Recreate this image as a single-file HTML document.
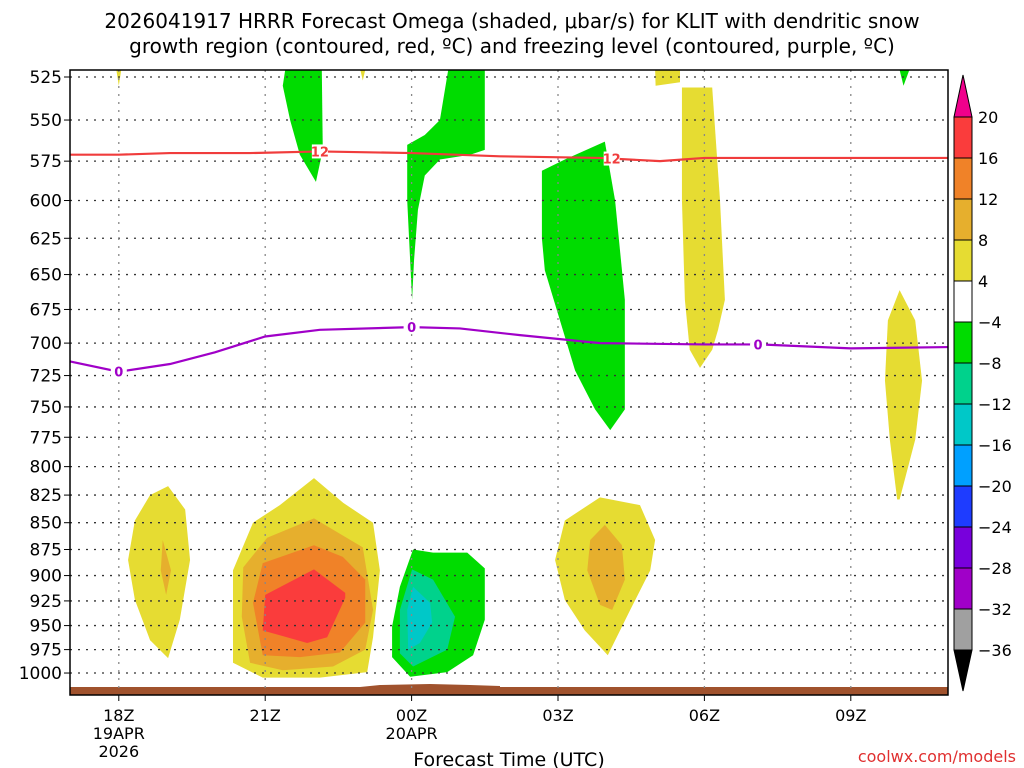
<!DOCTYPE html>
<html><head><meta charset="utf-8"><style>
body{margin:0;background:#fff;}
svg{display:block;font-family:"DejaVu Sans","Liberation Sans",sans-serif;}
</style></head><body>
<svg id="chart" width="1024" height="768" viewBox="0 0 1024 768" xmlns="http://www.w3.org/2000/svg">
<text x="512" y="28" font-size="20" text-anchor="middle">2026041917 HRRR Forecast Omega (shaded, μbar/s) for KLIT with dendritic snow</text>
<text x="512" y="53" font-size="20" text-anchor="middle">growth region (contoured, red, ºC) and freezing level (contoured, purple, ºC)</text>
<g id="fills"></g>
<g id="grid"></g>
<g id="lines"></g>
<g id="axes"></g>
<g id="cbar"></g>
<text x="509" y="766" font-size="19" text-anchor="middle">Forecast Time (UTC)</text>
<text x="1016" y="762" font-size="16" fill="#e03030" text-anchor="end">coolwx.com/models</text>
</svg>
<script>
const pressureTicks=[525,550,575,600,625,650,675,700,725,750,775,800,825,850,875,900,925,950,975,1000];
const timeTickHours=[1,4,7,10,13,16];
const timeTickLabels=[["18Z","19APR","2026"],["21Z"],["00Z","20APR"],["03Z"],["06Z"],["09Z"]];
const cbarLevels=[20,16,12,8,4,-4,-8,-12,-16,-20,-24,-28,-32,-36];
const cbarColors=["#fa3c3c","#f08228","#e6af2d","#e6dc32","#ffffff","#00dc00","#00d28c","#00c8c8","#00a0ff","#1e3cff","#7800dc","#a000c8","#a0a0a0"];
// filled omega regions: [hour since 17Z, pressure hPa]
const warmOuter=[[5.0,810],[4.3,834],[3.75,850],[3.34,895],[3.34,989],[3.95,1005],[5.12,1005],[6.09,999],[6.21,962],[6.35,895],[6.21,850],[5.6,832]];
const warmGold=[[5.0,846],[4.04,864],[3.55,892],[3.52,941],[3.69,989],[4.36,997],[5.39,993],[6.05,975],[6.21,934],[6.0,873]];
const warmOrange=[[5.0,871],[3.95,888],[3.75,927],[3.95,981],[4.71,983],[5.53,978],[6.05,947],[6.05,904],[5.59,882]];
const warmRed=[[5.0,894],[4.0,919],[3.95,955],[4.86,968],[5.27,962],[5.64,922],[5.64,917]];
const coldGreen=[[7.03,875],[7.44,878],[8.14,878],[8.5,893],[8.5,944],[8.26,981],[7.73,999],[6.97,1004],[6.6,983],[6.6,951],[6.76,911]];
const coldTeal=[[7.01,894],[7.44,904],[7.89,941],[7.73,975],[7.03,993],[6.76,979],[6.76,934]];
const coldCyan=[[7.03,911],[7.38,927],[7.42,947],[7.17,968],[6.93,975],[6.91,934]];
const leftYellow=[[2.01,817],[2.36,838],[2.46,885],[2.25,944],[2.01,984],[1.64,965],[1.33,924],[1.19,885],[1.33,848],[1.64,825]];
const leftGold=[[1.9,866],[2.07,895],[1.97,919],[1.86,895]];
const rightYellow=[[10.86,827],[11.68,834],[11.99,866],[11.89,895],[11.48,934],[11.02,981],[10.55,955],[10.14,924],[9.94,885],[10.14,848]];
const rightGold=[[10.96,852],[11.31,871],[11.37,904],[11.11,934],[10.86,929],[10.6,895],[10.66,866]];
const upperYellow=[[4.0,677],[5.08,675],[5.53,647],[5.86,606],[5.98,568],[6.1,603],[6.31,668],[6.31,721],[6.05,751],[5.33,744],[4.51,732],[4.0,721]];
const greenA=[[4.41,521],[5.16,521],[5.18,568],[5.04,588],[4.71,571],[4.51,550],[4.36,530]];
const greenB=[[7.75,521],[8.5,521],[8.5,568],[8.2,571],[7.58,574],[7.27,584],[7.13,606],[7.05,640],[7.01,668],[6.97,640],[6.91,600],[6.91,565],[7.27,559],[7.58,550]];
const greenC=[[9.67,581],[10.14,574],[10.96,563],[11.17,600],[11.37,668],[11.37,752],[11.07,769],[10.76,752],[10.35,721],[10.04,683],[9.73,647],[9.67,625]];
const yellow06=[[12.54,531],[13.16,531],[13.32,600],[13.42,668],[13.28,690],[13.16,705],[12.91,719],[12.7,705],[12.6,668],[12.54,600]];
const yellowTop=[[11.99,521],[12.5,521],[12.5,528],[12.0,530]];
const yellow10=[[17.0,661],[17.32,683],[17.46,729],[17.32,777],[17.0,829],[16.95,829],[16.8,777],[16.7,729],[16.76,683]];
const greenTop=[[17.0,521],[17.2,521],[17.08,530]];
const yellowTick1=[[0.95,521],[1.05,521],[1.0,530]];
const yellowTick2=[[5.95,521],[6.05,521],[6.0,527]];
const fillRegions=[[upperYellow,4],[yellow06,3],[yellowTop,3],[yellow10,3],[yellowTick1,3],[yellowTick2,3],[greenA,5],[greenB,5],[greenC,5],[greenTop,5],[warmOuter,3],[warmGold,2],[warmOrange,1],[warmRed,0],[coldGreen,5],[coldTeal,6],[coldCyan,7],[leftYellow,3],[leftGold,2],[rightYellow,3],[rightGold,2]];
const fillNames=["upper-yellow","yellow-06z","yellow-top","yellow-10z","yellow-tick-18z","yellow-tick-23z","green-22z","green-00z","green-03z","green-top-10z","warm-outer","warm-gold","warm-orange","warm-red","cold-green","cold-teal","cold-cyan","left-yellow","left-gold","right-yellow","right-gold"];
// contour lines
const dgzHours=[0,1,2.05,3.69,5.12,7.0,8.81,10.86,12.09,13.0,16.0,18];
const dgzPress=[571,571,570,570,569,570,572,573,575,573,573,573];
const frzHours=[0,1,2.05,2.97,4.0,5.12,7.0,7.99,9.22,10.86,13.0,14.13,16.0,18];
const frzPress=[714,722,716,707,695,690,688,689,694,700,701,701,704,703];

const L=70,R=948,T=70,B=695;
const X=h=>L+48.8*h;
const Y=p=>77+925*Math.log(p/525);
const NS="http://www.w3.org/2000/svg";
function mk(tag,parent,attrs){const e=document.createElementNS(NS,tag);for(const k in attrs)e.setAttribute(k,attrs[k]);document.getElementById(parent).appendChild(e);return e;}

document.getElementById('fills').setAttribute('clip-path','url(#clipp)');
const defs=document.createElementNS(NS,'defs');defs.innerHTML='<clipPath id="clipp"><rect x="70" y="70" width="878" height="625"/></clipPath>';document.getElementById('chart').prepend(defs);

fillRegions.forEach((r,i)=>{
 const el=mk('polygon','fills',{points:r[0].map(q=>X(q[0])+','+Y(q[1])).join(' '),fill:cbarColors[r[1]]});
 
 
});
// terrain
let t=mk('rect','fills',{x:70,y:687,width:878,height:8,fill:'#a0522d'});


let t2=mk('polygon','fills',{points:'360,687 380,685 430,684 470,685 500,686 500,688 360,688',fill:'#a0522d'});



pressureTicks.forEach(p=>{
 const g=mk('line','grid',{x1:L,x2:R,y1:Y(p),y2:Y(p),stroke:'#333','stroke-dasharray':'2,6','stroke-width':1.3});
 
 
 const tk=mk('line','axes',{x1:L-6,x2:L,y1:Y(p),y2:Y(p),stroke:'#000'});
 
 
 const lb=mk('text','axes',{x:L-8,y:Y(p)+6,'font-size':17,'text-anchor':'end'});
 lb.textContent=p;
 
 
});
timeTickHours.forEach((h,i)=>{
 const g=mk('line','grid',{x1:X(h),x2:X(h),y1:T,y2:B,stroke:'#888','stroke-dasharray':'2,6','stroke-width':1.3});
 
 
 const tk=mk('line','axes',{x1:X(h),x2:X(h),y1:B,y2:B+6,stroke:'#000'});
 
 
 timeTickLabels[i].forEach((s,j)=>{
  const lb=mk('text','axes',{x:X(h),y:721+j*18,'font-size':16,'text-anchor':'middle'});
  lb.textContent=s;
  
  
 });
});
const fr=mk('rect','axes',{x:L,y:T,width:R-L,height:B-T,fill:'none',stroke:'#000','stroke-width':1.5});



function line(hs,ps,color,name,labelHours,label){
 const d=hs.map((h,i)=>(i?'L':'M')+X(h)+','+Y(ps[i])).join(' ');
 const el=mk('path','lines',{d:d,fill:'none',stroke:color,'stroke-width':2.2});
 
 
 labelHours.forEach(h=>{
  let k=0;while(k<hs.length-2&&hs[k+1]<h)k++;
  const f=(h-hs[k])/(hs[k+1]-hs[k]);const p=ps[k]+f*(ps[k+1]-ps[k]);
  const bg=mk('rect','lines',{x:X(h)-8,y:Y(p)-7,width:16,height:14,fill:'#fff'});
  
  
  const tx=mk('text','lines',{x:X(h),y:Y(p)+5,'font-size':13,'font-weight':'bold',fill:color,'text-anchor':'middle'});
  tx.textContent=label;
  
  
 });
}
line(dgzHours,dgzPress,'#f03c3c','dgz-12c-contour',[5.12,11.1],'12');
line(frzHours,frzPress,'#a000c8','freezing-level-contour',[1,7,14.1],'0');

// colorbar
const cbTop=117,cbStep=41,cx=954,cw=18;
cbarColors.forEach((c,i)=>{
 const r=mk('rect','cbar',{x:cx,y:cbTop+i*cbStep,width:cw,height:cbStep,fill:c,stroke:'#000','stroke-width':1});
 
 
});
cbarLevels.forEach((v,i)=>{
 const lb=mk('text','cbar',{x:978,y:cbTop+i*cbStep+6,'font-size':16});
 lb.textContent=v<0?'−'+(-v):v;
 
 
});
const bot=cbTop+cbarColors.length*cbStep;
const up=mk('polygon','cbar',{points:`${cx},${cbTop} ${cx+cw},${cbTop} ${cx+cw/2},75`,fill:'#f0008c',stroke:'#000'});


const dn=mk('polygon','cbar',{points:`${cx},${bot} ${cx+cw},${bot} ${cx+cw/2},691`,fill:'#000',stroke:'#000'});


</script>
</body></html>
